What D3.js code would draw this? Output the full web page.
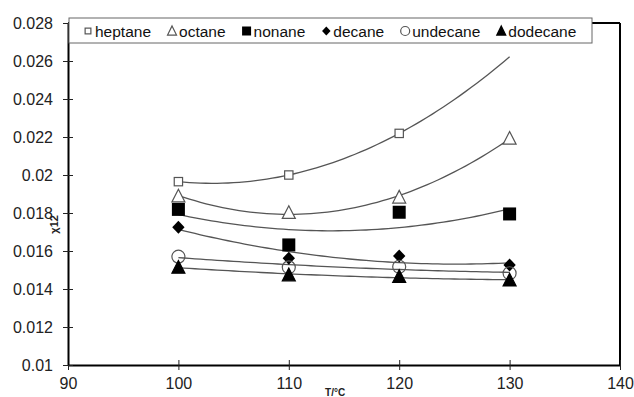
<!DOCTYPE html>
<html>
<head>
<meta charset="utf-8">
<script src="https://cdn.jsdelivr.net/npm/d3@7"></script>
<style>
  html, body { margin: 0; padding: 0; background: #fff; }
  svg { display: block; }
  text { font-family: "Liberation Sans", Arial, sans-serif; }
</style>
</head>
<body>
<svg id="chart" width="634" height="397"></svg>
<script>
// ---- data ----
const temperatures = [100, 110, 120, 130];
const heptane  = [0.01965, 0.02000, 0.02219, null];
const octane   = [0.01889, 0.01802, 0.01883, 0.02193];
const nonane   = [0.01819, 0.01632, 0.01804, 0.01795];
const decane   = [0.01725, 0.01562, 0.01574, 0.01526];
const undecane = [0.01570, 0.01514, 0.01517, 0.01483];
const dodecane = [0.01514, 0.01474, 0.01465, 0.01447];
const seriesNames = ["heptane", "octane", "nonane", "decane", "undecane", "dodecane"];
const xTicks = [90, 100, 110, 120, 130, 140];
const yTicks = [0.01, 0.012, 0.014, 0.016, 0.018, 0.02, 0.022, 0.024, 0.026, 0.028];
const xTitle = "T/°C";
const yTitle = "χ12";

const seriesValues = [heptane, octane, nonane, decane, undecane, dodecane];
const markerTypes = ["squareOpen", "triangleOpen", "squareFilled", "diamond", "circleOpen", "triangleFilled"];

const svg = d3.select("#chart");
const x = d3.scaleLinear().domain([90, 140]).range([68, 620]);
const y = d3.scaleLinear().domain([0.01, 0.028]).range([365, 23]);

// quadratic least-squares trendline (Excel polynomial order 2)
function quadFit(xs, ys) {
  const pts = xs.map((v, i) => [v, ys[i]]).filter(p => p[1] != null);
  const m = d3.mean(pts, p => p[0]);
  let S = [0,0,0,0,0], T = [0,0,0];
  pts.forEach(([xv, yv]) => {
    const t = xv - m;
    for (let k = 0; k < 5; k++) S[k] += Math.pow(t, k);
    for (let k = 0; k < 3; k++) T[k] += yv * Math.pow(t, k);
  });
  const A = [[S[0],S[1],S[2],T[0]],[S[1],S[2],S[3],T[1]],[S[2],S[3],S[4],T[2]]];
  for (let i = 0; i < 3; i++) {
    let p = i;
    for (let r = i+1; r < 3; r++) if (Math.abs(A[r][i]) > Math.abs(A[p][i])) p = r;
    [A[i], A[p]] = [A[p], A[i]];
    for (let r = 0; r < 3; r++) if (r !== i) {
      const f = A[r][i] / A[i][i];
      for (let c = i; c < 4; c++) A[r][c] -= f * A[i][c];
    }
  }
  const c = A.map((row, i) => row[3] / row[i]);
  return xv => { const t = xv - m; return c[0] + c[1]*t + c[2]*t*t; };
}

// ---- frame ----
svg.append("line").attr("x1", x(140)).attr("x2", x(140)).attr("y1", y(0.028)).attr("y2", y(0.01))
  .attr("stroke", "#000").attr("stroke-width", 2);
svg.append("line").attr("x1", x(90)).attr("x2", x(140)).attr("y1", y(0.028)).attr("y2", y(0.028))
  .attr("stroke", "#000").attr("stroke-width", 2);

// ---- axes ----
const xAxis = svg.append("g").attr("transform", `translate(0,${y(0.01)})`)
  .call(d3.axisBottom(x).tickValues(xTicks).tickSizeInner(5).tickSizeOuter(0).tickFormat(d3.format("d")));
xAxis.select(".domain").attr("stroke", "#000").attr("stroke-width", 2);
xAxis.selectAll(".tick line").attr("y1", -5).attr("y2", 5).attr("stroke", "#222");
xAxis.selectAll(".tick text").attr("y", 13).attr("dy", "0.71em")
  .attr("font-size", 16).attr("fill", "#222").attr("font-family", "Liberation Sans, Arial, sans-serif");

const yAxis = svg.append("g").attr("transform", `translate(${x(90)},0)`)
  .call(d3.axisLeft(y).tickValues(yTicks).tickSizeInner(5).tickSizeOuter(0).tickFormat(d => String(+d.toFixed(3))));
yAxis.select(".domain").attr("stroke", "#000").attr("stroke-width", 2);
yAxis.selectAll(".tick line").attr("x1", -5).attr("x2", 5).attr("stroke", "#222");
yAxis.selectAll(".tick text").attr("x", -15)
  .attr("font-size", 16).attr("fill", "#222").attr("font-family", "Liberation Sans, Arial, sans-serif");

// titles
svg.append("text").attr("x", x(114.2)).attr("y", 395.5).attr("text-anchor", "middle")
  .attr("font-size", 10).attr("font-weight", "bold").attr("fill", "#222").text(xTitle);
svg.append("text").attr("transform", `translate(58,${y(0.0174)}) rotate(-90)`).attr("text-anchor", "middle")
  .attr("font-size", 11).attr("font-weight", "bold").attr("fill", "#222").text(yTitle);

// ---- trendlines ----
const line = d3.line().x(d => x(d[0])).y(d => y(d[1])).curve(d3.curveLinear);
seriesValues.forEach(vals => {
  const f = quadFit(temperatures, vals);
  const pts = d3.range(100, 130.01, 0.5).map(t => [t, f(t)]);
  svg.append("path").attr("d", line(pts)).attr("fill", "none")
    .attr("stroke", "#555").attr("stroke-width", 1.3);
});

// ---- markers ----
function drawMarker(g, type, cx, cy, s) {
  const gray = "#555";
  if (type === "squareOpen") {
    g.append("rect").attr("x", cx - s*0.32).attr("y", cy - s*0.32).attr("width", s*0.64).attr("height", s*0.64)
      .attr("fill", "#fff").attr("stroke", gray).attr("stroke-width", 1.2);
  } else if (type === "squareFilled") {
    g.append("rect").attr("x", cx - s/2).attr("y", cy - s/2).attr("width", s).attr("height", s).attr("fill", "#000");
  } else if (type === "triangleOpen" || type === "triangleFilled") {
    const h = s * 0.9, w = s;
    g.append("path").attr("d", `M${cx},${cy - h/2 - 1}L${cx + w/2},${cy + h/2}L${cx - w/2},${cy + h/2}Z`)
      .attr("fill", type === "triangleFilled" ? "#000" : "#fff")
      .attr("stroke", type === "triangleFilled" ? "#000" : gray).attr("stroke-width", 1.2);
  } else if (type === "diamond") {
    const r = s * 0.5;
    g.append("path").attr("d", `M${cx},${cy - r}L${cx + r*0.95},${cy}L${cx},${cy + r}L${cx - r*0.95},${cy}Z`).attr("fill", "#000");
  } else if (type === "circleOpen") {
    g.append("circle").attr("cx", cx).attr("cy", cy).attr("r", s/2)
      .attr("fill", "none").attr("stroke", gray).attr("stroke-width", 1.2);
  }
}
const markerG = svg.append("g");
seriesValues.forEach((vals, si) => {
  vals.forEach((v, i) => {
    if (v == null) return;
    drawMarker(markerG, markerTypes[si], x(temperatures[i]), y(v), 13);
  });
});

// ---- legend ----
const lg = svg.append("g");
lg.append("rect").attr("x", 69).attr("y", 18).attr("width", 523).attr("height", 25)
  .attr("fill", "#fff").attr("stroke", "#666").attr("stroke-width", 1);
let lx = 88;
seriesNames.forEach((name, i) => {
  drawMarker(lg, markerTypes[i], lx, 31, 9);
  const t = lg.append("text").attr("x", lx + 7).attr("y", 36.5).attr("font-size", 15.5).attr("fill", "#111").text(name);
  lx = lx + 7 + t.node().getComputedTextLength() + 21;
});
</script>
</body>
</html>
